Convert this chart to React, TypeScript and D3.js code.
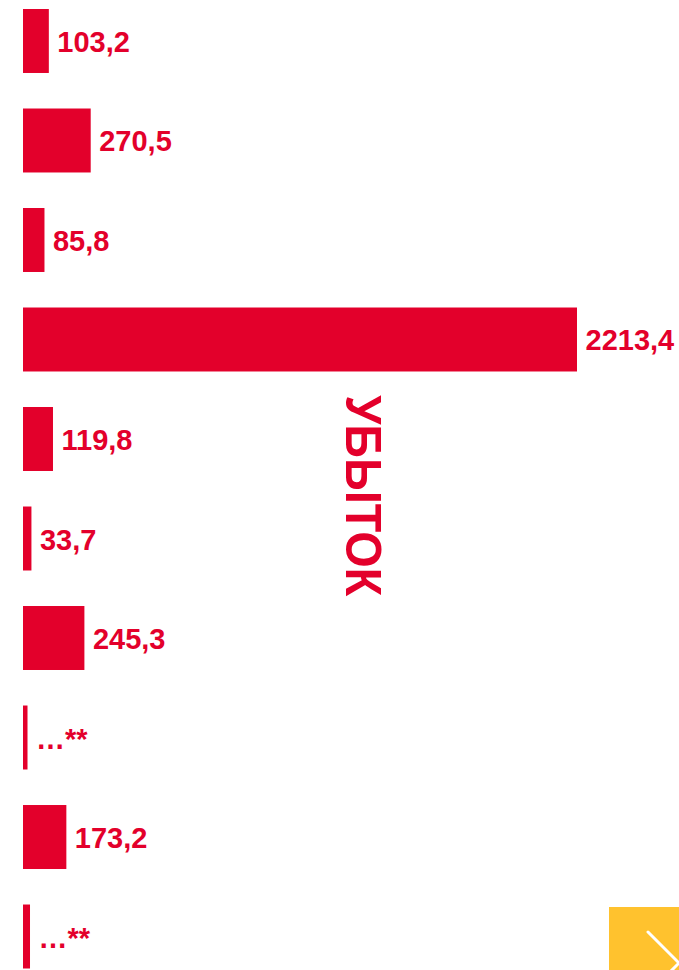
import React from "react";
import * as d3 from "d3";

const categories = ["r1", "r2", "r3", "r4", "r5", "r6", "r7", "r8", "r9", "r10"];
const values = [103.2, 270.5, 85.8, 2213.4, 119.8, 33.7, 245.3, 18, 173.2, 28];
const valueLabels = ["103,2", "270,5", "85,8", "2213,4", "119,8", "33,7", "245,3", "…**", "173,2", "…**"];
const sideTitle = "УБЫТОК";

const W = 679;
const H = 970;
const RED = "#E3002B";
const YELLOW = "#FFC22E";
const FONT = "'Liberation Sans', Arial, Helvetica, sans-serif";

export default function App() {
  const x = d3.scaleLinear().domain([0, 2213.4]).range([23, 577]);
  const y = d3
    .scaleBand<string>()
    .domain(categories)
    .range([9, 968.5])
    .paddingInner(0.357)
    .paddingOuter(0);
  const bw = y.bandwidth();

  return (
    <svg
      width={W}
      height={H}
      viewBox={`0 0 ${W} ${H}`}
      style={{ position: "absolute", left: 0, top: 0, background: "#fff" }}
    >
      <g>
        {categories.map((c, i) => {
          const y0 = y(c) as number;
          return (
            <g key={c}>
              <rect x={x(0)} y={y0} width={x(values[i]) - x(0)} height={bw} fill={RED} />
              <text
                x={x(values[i]) + 8.5}
                y={y0 + bw / 2 + 11}
                fill={RED}
                fontFamily={FONT}
                fontWeight="bold"
                fontSize={29}
              >
                {valueLabels[i]}
              </text>
            </g>
          );
        })}
      </g>
      <text
        transform={`translate(346,495.7) rotate(90)`}
        textAnchor="middle"
        fill={RED}
        fontFamily={FONT}
        fontWeight="bold"
        fontSize={50}
        textLength={201}
        lengthAdjust="spacingAndGlyphs"
      >
        {sideTitle}
      </text>
      <rect x={609} y={907} width={70} height={63} fill={YELLOW} />
      <polyline
        points="648,932 679,963 670,972"
        fill="none"
        stroke="#fff"
        strokeWidth={3}
        strokeLinecap="round"
        strokeLinejoin="miter"
      />
    </svg>
  );
}
